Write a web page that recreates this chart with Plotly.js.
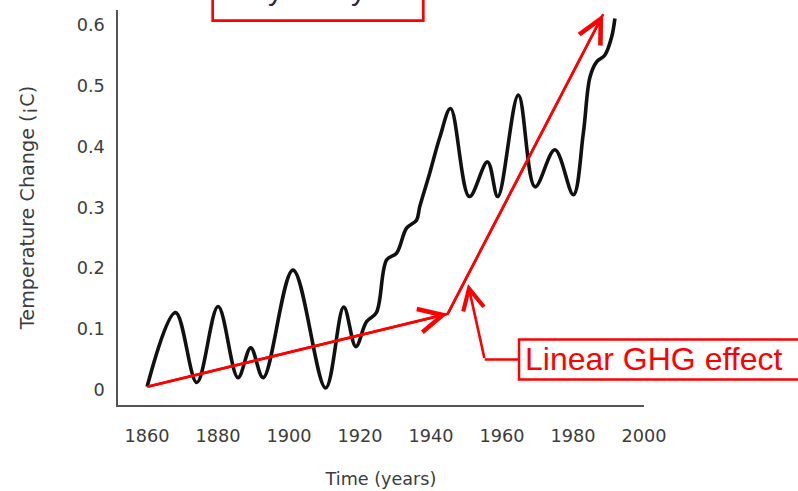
<!DOCTYPE html>
<html>
<head>
<meta charset="utf-8">
<script src="https://cdn.plot.ly/plotly-3.0.1.min.js"></script>
<style>html,body{margin:0;padding:0;background:#fff;overflow:hidden;}</style>
</head>
<body>
<div id="chart" style="width:798px;height:491px;"></div>
<script>
// Smoothed global temperature change curve
const years = [1860, 1868.0, 1874.0, 1880.0, 1885.6, 1889.2, 1892.7, 1901.1, 1910.3, 1915.4,
               1918.8, 1921.8, 1924.6, 1927.5, 1930.3, 1933.1, 1935.9, 1936.8, 1939.6, 1942.5,
               1945.5, 1950.8, 1955.9, 1958.8, 1964.6, 1969.3, 1974.9, 1980.1, 1982.9, 1984.8,
               1986.7, 1989.0, 1990.9, 1991.8];
const temps = [0.005, 0.127, 0.012, 0.137, 0.020, 0.069, 0.020, 0.197, 0.003, 0.136,
               0.071, 0.112, 0.127, 0.214, 0.225, 0.266, 0.279, 0.301, 0.356, 0.416,
               0.463, 0.318, 0.375, 0.318, 0.485, 0.334, 0.395, 0.321, 0.422, 0.515,
               0.540, 0.551, 0.581, 0.611];

// Red "linear GHG effect" trend (two segments)
const ghgYears = [1860, 1944.7, 1988.5];
const ghgTemps = [0.005, 0.125, 0.618];

// Axis ticks and labels
const xTickVals = [1860, 1880, 1900, 1920, 1940, 1960, 1980, 2000];
const xTickText = ['1860', '1880', '1900', '1920', '1940', '1960', '1980', '2000'];
const yTickVals = [0, 0.1, 0.2, 0.3, 0.4, 0.5, 0.6];
const yTickText = ['0', '0.1', '0.2', '0.3', '0.4', '0.5', '0.6'];
const xTitle = 'Time (years)';
const yTitle = 'Temperature Change (¡C)';
const calloutText = 'Linear GHG effect';
const topBoxLetters = ['y', 'y'];

const RED = 'rgb(255,0,0)';
const tickFont = {family: 'DejaVu Sans', size: 17.7, color: '#3c3c3c'};

const traces = [
  {
    x: years, y: temps, type: 'scatter', mode: 'lines',
    line: {color: '#111111', width: 3.6, shape: 'spline', smoothing: 1},
    hoverinfo: 'skip', showlegend: false
  },
  {
    x: ghgYears, y: ghgTemps, type: 'scatter', mode: 'lines',
    line: {color: RED, width: 2.6},
    hoverinfo: 'skip', showlegend: false
  }
];

const annotations = [];
// arrowheads on the two red trend segments, derived from the trend arrays
for (let i = 1; i < ghgYears.length; i++) {
  annotations.push({
    x: ghgYears[i], y: ghgTemps[i], xref: 'x', yref: 'y',
    ax: ghgYears[i-1], ay: ghgTemps[i-1], axref: 'x', ayref: 'y',
    text: '', showarrow: true, arrowhead: 5, arrowsize: 1.8,
    arrowwidth: 2.6, arrowcolor: RED, standoff: 0
  });
}
// leader arrow of the callout
annotations.push({
  x: 0.6654, y: 0.3063, xref: 'paper', yref: 'paper',
  ax: 16.7, ay: 75.5, text: '', showarrow: true, arrowhead: 5, arrowsize: 1.6,
  arrowwidth: 2.6, arrowcolor: RED, standoff: 0
});
// callout text
annotations.push({
  x: 0.770, y: 0.1152, xref: 'paper', yref: 'paper', xanchor: 'left', yanchor: 'middle',
  text: calloutText, showarrow: false,
  font: {family: 'Liberation Sans', size: 32, color: RED}
});
// descenders of the cropped label in the top box (cropped in the reference too)
const topX = [0.2985, 0.4563];
topBoxLetters.forEach((t, i) => annotations.push({
  x: topX[i], y: 1.0063, xref: 'paper', yref: 'paper', xanchor: 'center', yanchor: 'bottom',
  text: t, showarrow: false, font: {family: 'Liberation Sans', size: 30, color: '#2a2a3a'}
}));

const shapes = [
  // top (cropped) red box
  {type: 'rect', xref: 'paper', yref: 'paper', x0: 0.1800, x1: 0.5804, y0: 0.9729, y1: 1.2,
   line: {color: RED, width: 2.7}, fillcolor: 'rgba(0,0,0,0)'},
  // callout box
  {type: 'rect', xref: 'paper', yref: 'paper', x0: 0.7624, x1: 1.40, y0: 0.0646, y1: 0.1658,
   line: {color: RED, width: 2.5}, fillcolor: 'rgba(255,255,255,1)'},
  // horizontal part of leader
  {type: 'line', xref: 'paper', yref: 'paper', x0: 0.7624, x1: 0.6971, y0: 0.1152, y1: 0.1152,
   line: {color: RED, width: 2.6}}
];

const layout = {
  width: 798, height: 491,
  margin: {l: 118, r: 154, t: 10, b: 86},
  paper_bgcolor: '#ffffff', plot_bgcolor: '#ffffff',
  font: {family: 'DejaVu Sans', color: '#3c3c3c'},
  showlegend: false,
  xaxis: {
    range: [1851.8, 2000], tickvals: xTickVals, ticktext: xTickText,
    showgrid: false, zeroline: false, showline: true, linecolor: '#555555', linewidth: 1.6,
    ticks: '', ticklabelstandoff: 14, tickfont: tickFont,
    title: {text: xTitle, font: {family: 'DejaVu Sans', size: 17.6, color: '#3c3c3c'}, standoff: 28}
  },
  yaxis: {
    range: [-0.025, 0.625], tickvals: yTickVals, ticktext: yTickText,
    showgrid: false, zeroline: false, showline: true, linecolor: '#555555', linewidth: 1.6,
    ticks: '', ticklabelstandoff: 8, tickfont: tickFont,
    title: {text: yTitle, font: {family: 'DejaVu Sans', size: 19.2, color: '#3c3c3c'}, standoff: 37}
  },
  shapes: shapes,
  annotations: annotations
};

Plotly.newPlot('chart', traces, layout, {staticPlot: true, displayModeBar: false});
</script>
</body>
</html>
